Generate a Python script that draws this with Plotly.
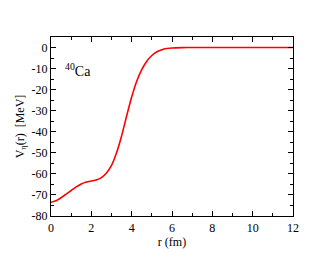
import plotly.graph_objects as go

r_fm = [0, 0.25, 0.5, 0.75, 1.0, 1.25, 1.5, 1.75, 2.0, 2.25, 2.5, 2.75, 3.0, 3.25,
        3.5, 3.75, 4.0, 4.25, 4.5, 4.75, 5.0, 5.25, 5.5, 5.75, 6.0, 6.5, 7, 8, 9, 10, 11, 12]
V_mev = [-73.5, -72.8, -71.3, -69.6, -67.9, -66.2, -64.8, -63.9, -63.4, -62.9, -61.8,
         -59.6, -56.0, -50.0, -42.0, -32.5, -23.5, -16.0, -10.5, -6.5, -3.8, -2.0, -1.0,
         -0.5, -0.2, -0.05, 0, 0, 0, 0, 0, 0]

x_ticks = [0, 2, 4, 6, 8, 10, 12]
y_ticks = [0, -10, -20, -30, -40, -50, -60, -70, -80]

font = "'Liberation Serif', 'DejaVu Serif', serif"

fig = go.Figure()
fig.add_trace(go.Scatter(x=r_fm, y=V_mev, mode="lines",
                         line=dict(color="#ff0000", width=1.6, shape="spline", smoothing=0.6),
                         showlegend=False, hoverinfo="skip"))

axis_common = dict(showline=True, linecolor="black", linewidth=1.3, mirror="ticks",
                   ticks="inside", ticklen=5, tickwidth=1, tickcolor="black",
                   showgrid=False, zeroline=False, automargin=False,
                   tickfont=dict(family=font, size=12, color="black"))

fig.update_xaxes(range=[0, 12], tickvals=x_ticks, ticktext=[str(v) for v in x_ticks],
                 minor=dict(dtick=1, tick0=0, ticks="inside", ticklen=3, tickcolor="black"),
                 title=dict(text="r (fm)", font=dict(family=font, size=12, color="black"), standoff=0),
                 **axis_common)
fig.update_yaxes(range=[-80, 5], tickvals=y_ticks, ticktext=[str(v) for v in y_ticks],
                 minor=dict(dtick=5, tick0=0, ticks="inside", ticklen=3, tickcolor="black"),
                 title=dict(text="V<sub>η</sub>(r)  [MeV]", font=dict(family=font, size=12, color="black"), standoff=4),
                 **axis_common)

fig.add_annotation(x=0.6, y=-10.5, xref="x", yref="y", text="<sup>40</sup>Ca",
                   showarrow=False, xanchor="left",
                   font=dict(family=font, size=14, color="black"))

fig.update_layout(width=322, height=247, margin=dict(l=43, r=37, t=29, b=39),
                  paper_bgcolor="white", plot_bgcolor="white",
                  font=dict(family=font, color="black"))

fig.write_html("out.html")
